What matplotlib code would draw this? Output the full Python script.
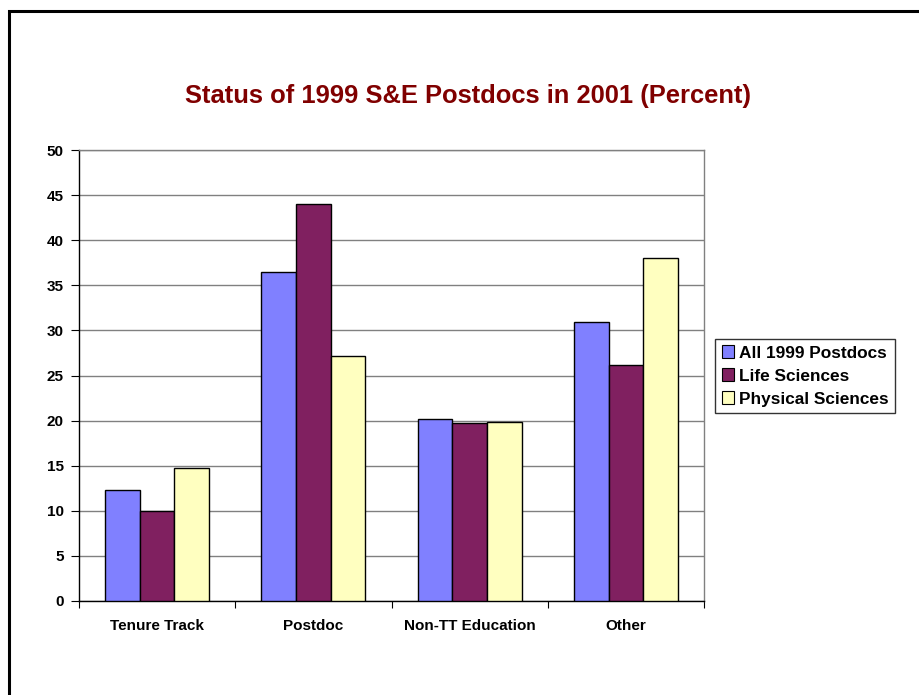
import matplotlib
matplotlib.use("Agg")
import matplotlib.pyplot as plt
from matplotlib.patches import Rectangle, Patch
import numpy as np

categories = ["Tenure Track", "Postdoc", "Non-TT Education", "Other"]
series_names = ["All 1999 Postdocs", "Life Sciences", "Physical Sciences"]
all_postdocs = [12.3, 36.5, 20.2, 30.9]
life_sciences = [10.0, 44.0, 19.7, 26.2]
physical_sciences = [14.8, 27.2, 19.8, 38.0]
colors = ["#8080FF", "#802060", "#FFFFC0"]
yticks = [0, 5, 10, 15, 20, 25, 30, 35, 40, 45, 50]

plt.rcParams['font.family'] = ['Liberation Sans', 'DejaVu Sans']

fig = plt.figure(figsize=(9.19, 6.95), dpi=100)
fig.patches.append(Rectangle((8.5/919, -0.1), 1.2, (695-10.5)/695 + 0.1,
                             transform=fig.transFigure, fill=False,
                             edgecolor='black', linewidth=2.2))

ax = fig.add_axes([79/919, 1-601/695, (704-79)/919, (601-150)/695])
x = np.arange(len(categories))
w = 1/4.5
data = [all_postdocs, life_sciences, physical_sciences]
for i, (vals, c, name) in enumerate(zip(data, colors, series_names)):
    ax.bar(x + (i-1)*w, vals, width=w, color=c, edgecolor='black',
           linewidth=1.0, label=name, zorder=3)

ax.set_xlim(-0.5, len(categories)-0.5)
ax.set_ylim(0, 50)
ax.set_yticks(yticks)
ax.set_yticklabels([str(t) for t in yticks], fontsize=11, fontweight='bold')
ax.yaxis.grid(True, color='#808080', linewidth=1.0, zorder=0)
ax.set_axisbelow(True)

ax.set_xticks(np.arange(len(categories)+1) - 0.5)
ax.set_xticklabels([])
ax.set_xticks(x, minor=True)
ax.set_xticklabels(categories, minor=True, fontsize=11, fontweight='bold')
ax.tick_params(axis='x', which='minor', length=0, pad=13)
ax.tick_params(axis='x', which='major', length=5, direction='out', color='black')
ax.tick_params(axis='y', length=6, direction='out', color='black', pad=5)

for s in ['top', 'right']:
    ax.spines[s].set_color('#808080')
    ax.spines[s].set_linewidth(1.0)
for s in ['left', 'bottom']:
    ax.spines[s].set_color('black')
    ax.spines[s].set_linewidth(1.0)

fig.text(468/919, 1-96/695, "Status of 1999 S&E Postdocs in 2001 (Percent)",
         ha='center', va='center', fontsize=18.4, fontweight='bold', color='#800000')

handles = [Patch(facecolor=c, edgecolor='black', linewidth=0.8) for c in colors]
leg = fig.legend(handles, series_names, loc='center left',
                 bbox_to_anchor=(715/919, 1-376/695),
                 prop={'weight': 'bold', 'size': 12.4},
                 frameon=True, fancybox=False, edgecolor='black',
                 handlelength=0.75, handleheight=0.75, handletextpad=0.25,
                 borderpad=0.38, labelspacing=0.45, borderaxespad=0)
leg.get_frame().set_linewidth(1.0)

fig.savefig("out.png", dpi=100)
